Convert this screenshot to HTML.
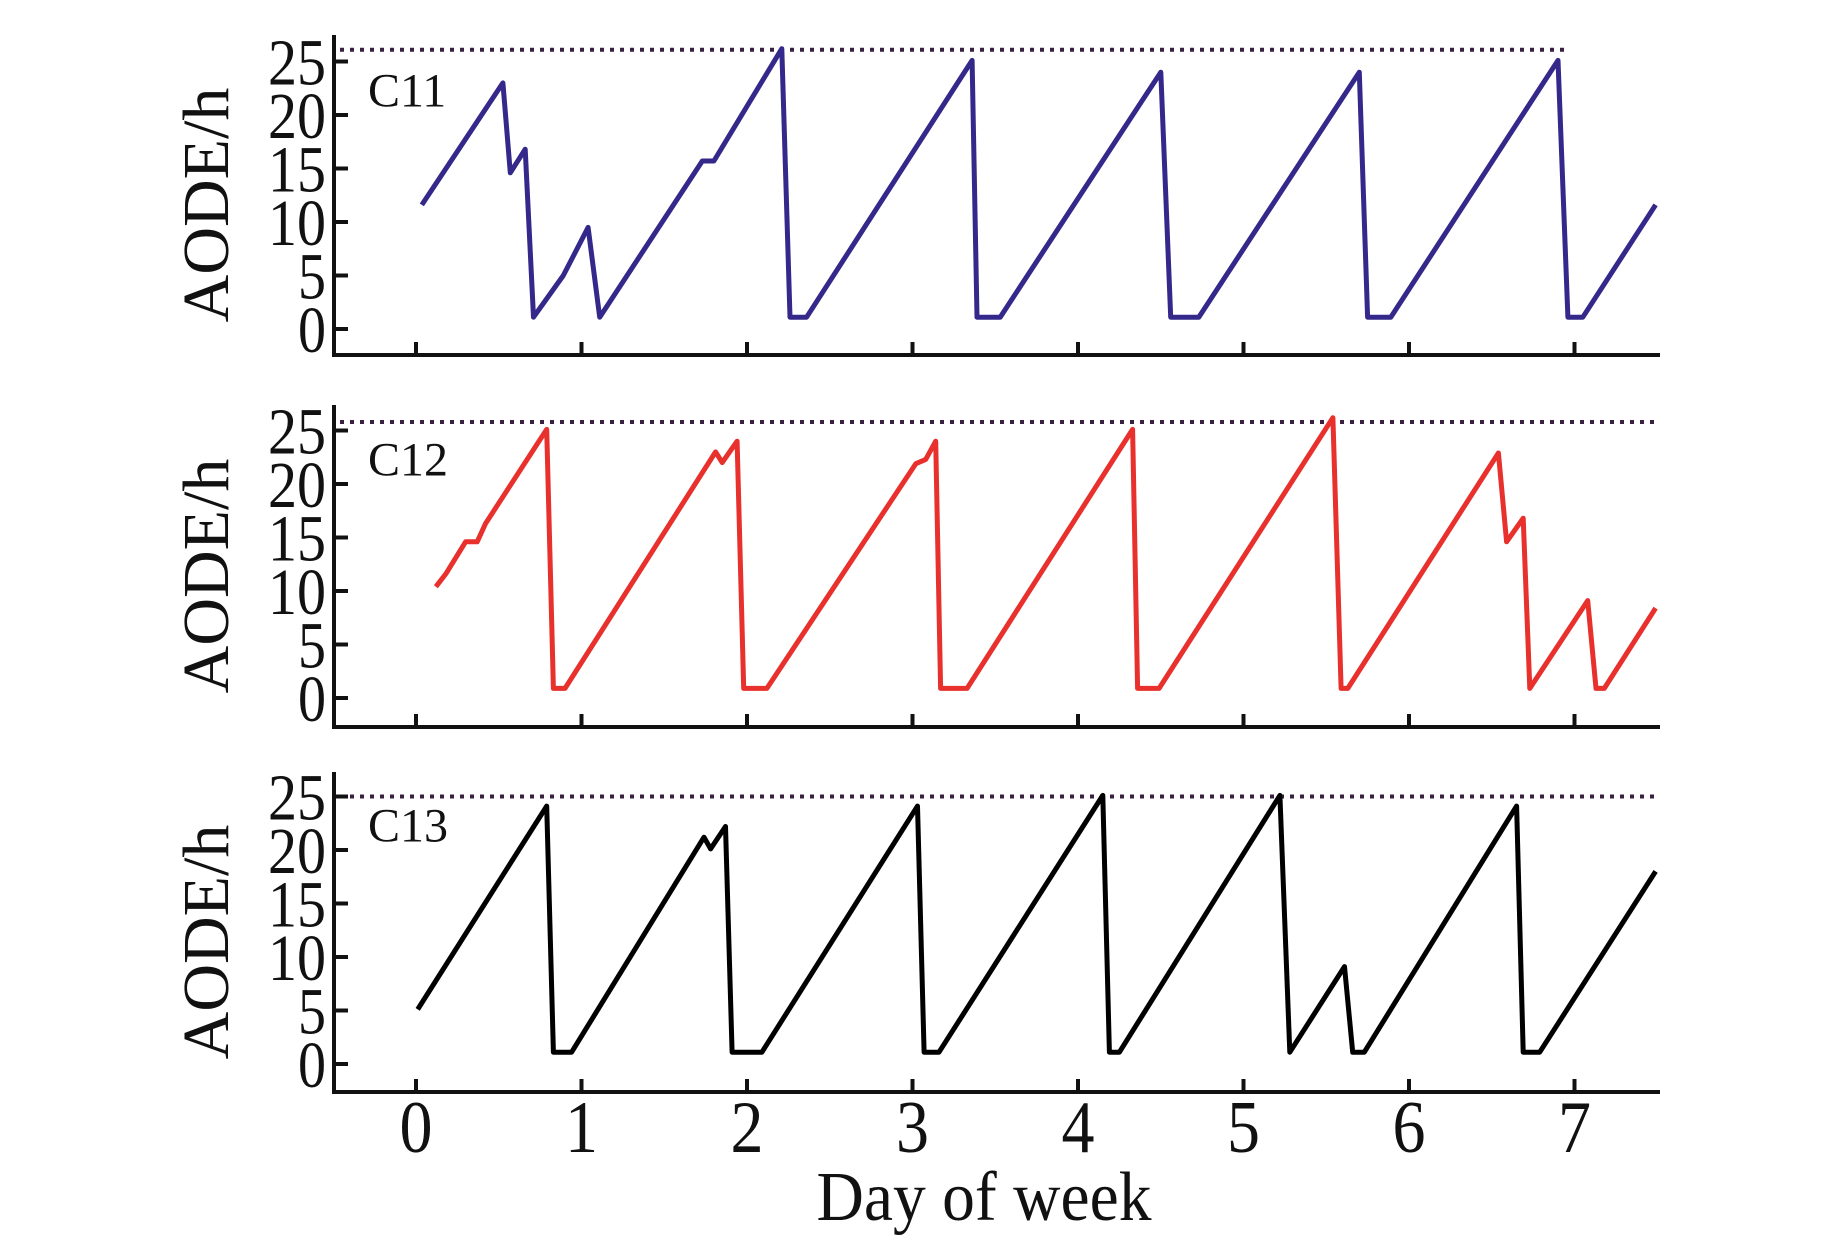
<!DOCTYPE html>
<html><head><meta charset="utf-8"><style>
body{margin:0;background:#fff;}
svg{display:block;}
text{font-family:"Liberation Serif",serif;fill:#111;}
</style></head><body>
<svg id="chart" width="1843" height="1252" viewBox="0 0 1843 1252" xmlns="http://www.w3.org/2000/svg"></svg>
<script>
const xTicks=[0,1,2,3,4,5,6,7];
const yTicks=[0,5,10,15,20,25];
const panelNames=["C11","C12","C13"];
const refLines=[26.1,25.8,25];
const days1=[0.035,0.525,0.57,0.66,0.71,0.89,1.04,1.11,1.73,1.80,2.21,2.26,2.36,3.36,3.39,3.53,4.50,4.56,4.73,5.70,5.75,5.89,6.90,6.96,7.05,7.49];
const vals1=[11.6,23,14.6,16.8,1.1,5,9.5,1.1,15.7,15.7,26.2,1.1,1.1,25.1,1.1,1.1,24,1.1,1.1,24,1.1,1.1,25.1,1.1,1.1,11.6];
const days2=[0.12,0.18,0.30,0.37,0.42,0.79,0.83,0.90,1.81,1.85,1.94,1.98,2.12,3.02,3.08,3.14,3.17,3.33,4.33,4.36,4.49,5.54,5.59,5.63,6.54,6.59,6.69,6.73,7.08,7.13,7.18,7.49];
const vals2=[10.4,11.6,14.6,14.6,16.3,25.1,0.9,0.9,23,22,24,0.9,0.9,21.9,22.3,24,0.9,0.9,25.1,0.9,0.9,26.2,0.9,0.9,22.9,14.6,16.8,0.9,9.1,0.9,0.9,8.4];
const days3=[0.01,0.79,0.83,0.94,1.74,1.78,1.87,1.91,2.09,3.03,3.07,3.16,4.15,4.19,4.25,5.22,5.28,5.61,5.66,5.73,6.65,6.69,6.79,7.49];
const vals3=[5.1,24.1,1.1,1.1,21.2,20.1,22.2,1.1,1.1,24.1,1.1,1.1,25.1,1.1,1.1,25.1,1.1,9.1,1.1,1.1,24.1,1.1,1.1,18];

const NS="http://www.w3.org/2000/svg";
const svg=document.getElementById('chart');
const panels=[
 {y0:329,top:35,axis:355,color:"#34288a",days:days1,vals:vals1},
 {y0:698,top:405,axis:727,color:"#e8302c",days:days2,vals:vals2},
 {y0:1064,top:772,axis:1092,color:"#000000",days:days3,vals:vals3}];
const X0=416,DX=165.5,UNIT=10.7,LEFT=334,RIGHT=1660;
const xs=d=>X0+d*DX;
function mk(tag,attrs,parent){const e=document.createElementNS(NS,tag);for(const k in attrs)e.setAttribute(k,attrs[k]);(parent||svg).appendChild(e);return e;}
panels.forEach((p,i)=>{
 const ys=v=>p.y0-v*UNIT;
 const g=mk('g',{});
 
 
 const ref=mk('line',{x1:340,x2:i===0?1570:RIGHT,y1:ys(refLines[i]),y2:ys(refLines[i]),stroke:"#3a2040","stroke-width":4,"stroke-dasharray":"4 6"},g);
 
 
 const ya=mk('line',{x1:LEFT,x2:LEFT,y1:p.top,y2:p.axis+2,stroke:"#111","stroke-width":4},g);
 
 
 const xa=mk('line',{x1:LEFT-2,x2:RIGHT,y1:p.axis,y2:p.axis,stroke:"#111","stroke-width":4},g);
 
 
 yTicks.forEach(t=>{
  const tl=mk('line',{x1:LEFT,x2:LEFT+14,y1:ys(t),y2:ys(t),stroke:"#111","stroke-width":4},g);
  
  
  const tx=mk('text',{x:LEFT-8,y:ys(t)+23,"text-anchor":"end","font-size":66,"textLength":t>=10?58:28,"lengthAdjust":"spacingAndGlyphs"},g);
  tx.textContent=t;
  
  
 });
 xTicks.forEach(t=>{
  const tl=mk('line',{x1:xs(t),x2:xs(t),y1:p.axis,y2:p.axis-13,stroke:"#111","stroke-width":4},g);
  
  
 });
 const yt=mk('text',{x:0,y:0,"font-size":66,"text-anchor":"middle",transform:`translate(228,${(p.top+p.axis)/2+10}) rotate(-90)`},g);
 yt.textContent="AODE/h";
 
 
 const lb=mk('text',{x:368,y:p.y0-UNIT*25+45,"font-size":48},g);
 lb.textContent=panelNames[i];
 
 
 const pts=p.days.map((d,k)=>xs(d).toFixed(1)+','+ys(p.vals[k]).toFixed(1)).join(' ');
 const pl=mk('polyline',{points:pts,fill:"none",stroke:p.color,"stroke-width":5,"stroke-linejoin":"round"},g);
 
 
});
xTicks.forEach(t=>{
 const tx=mk('text',{x:xs(t),y:1152,"text-anchor":"middle","font-size":74,"textLength":33,"lengthAdjust":"spacingAndGlyphs"});
 tx.textContent=t;
 
 
});
const xt=mk('text',{x:984,y:1220,"text-anchor":"middle","font-size":70,"textLength":335,"lengthAdjust":"spacingAndGlyphs"});
xt.textContent="Day of week";


</script>
</body></html>
